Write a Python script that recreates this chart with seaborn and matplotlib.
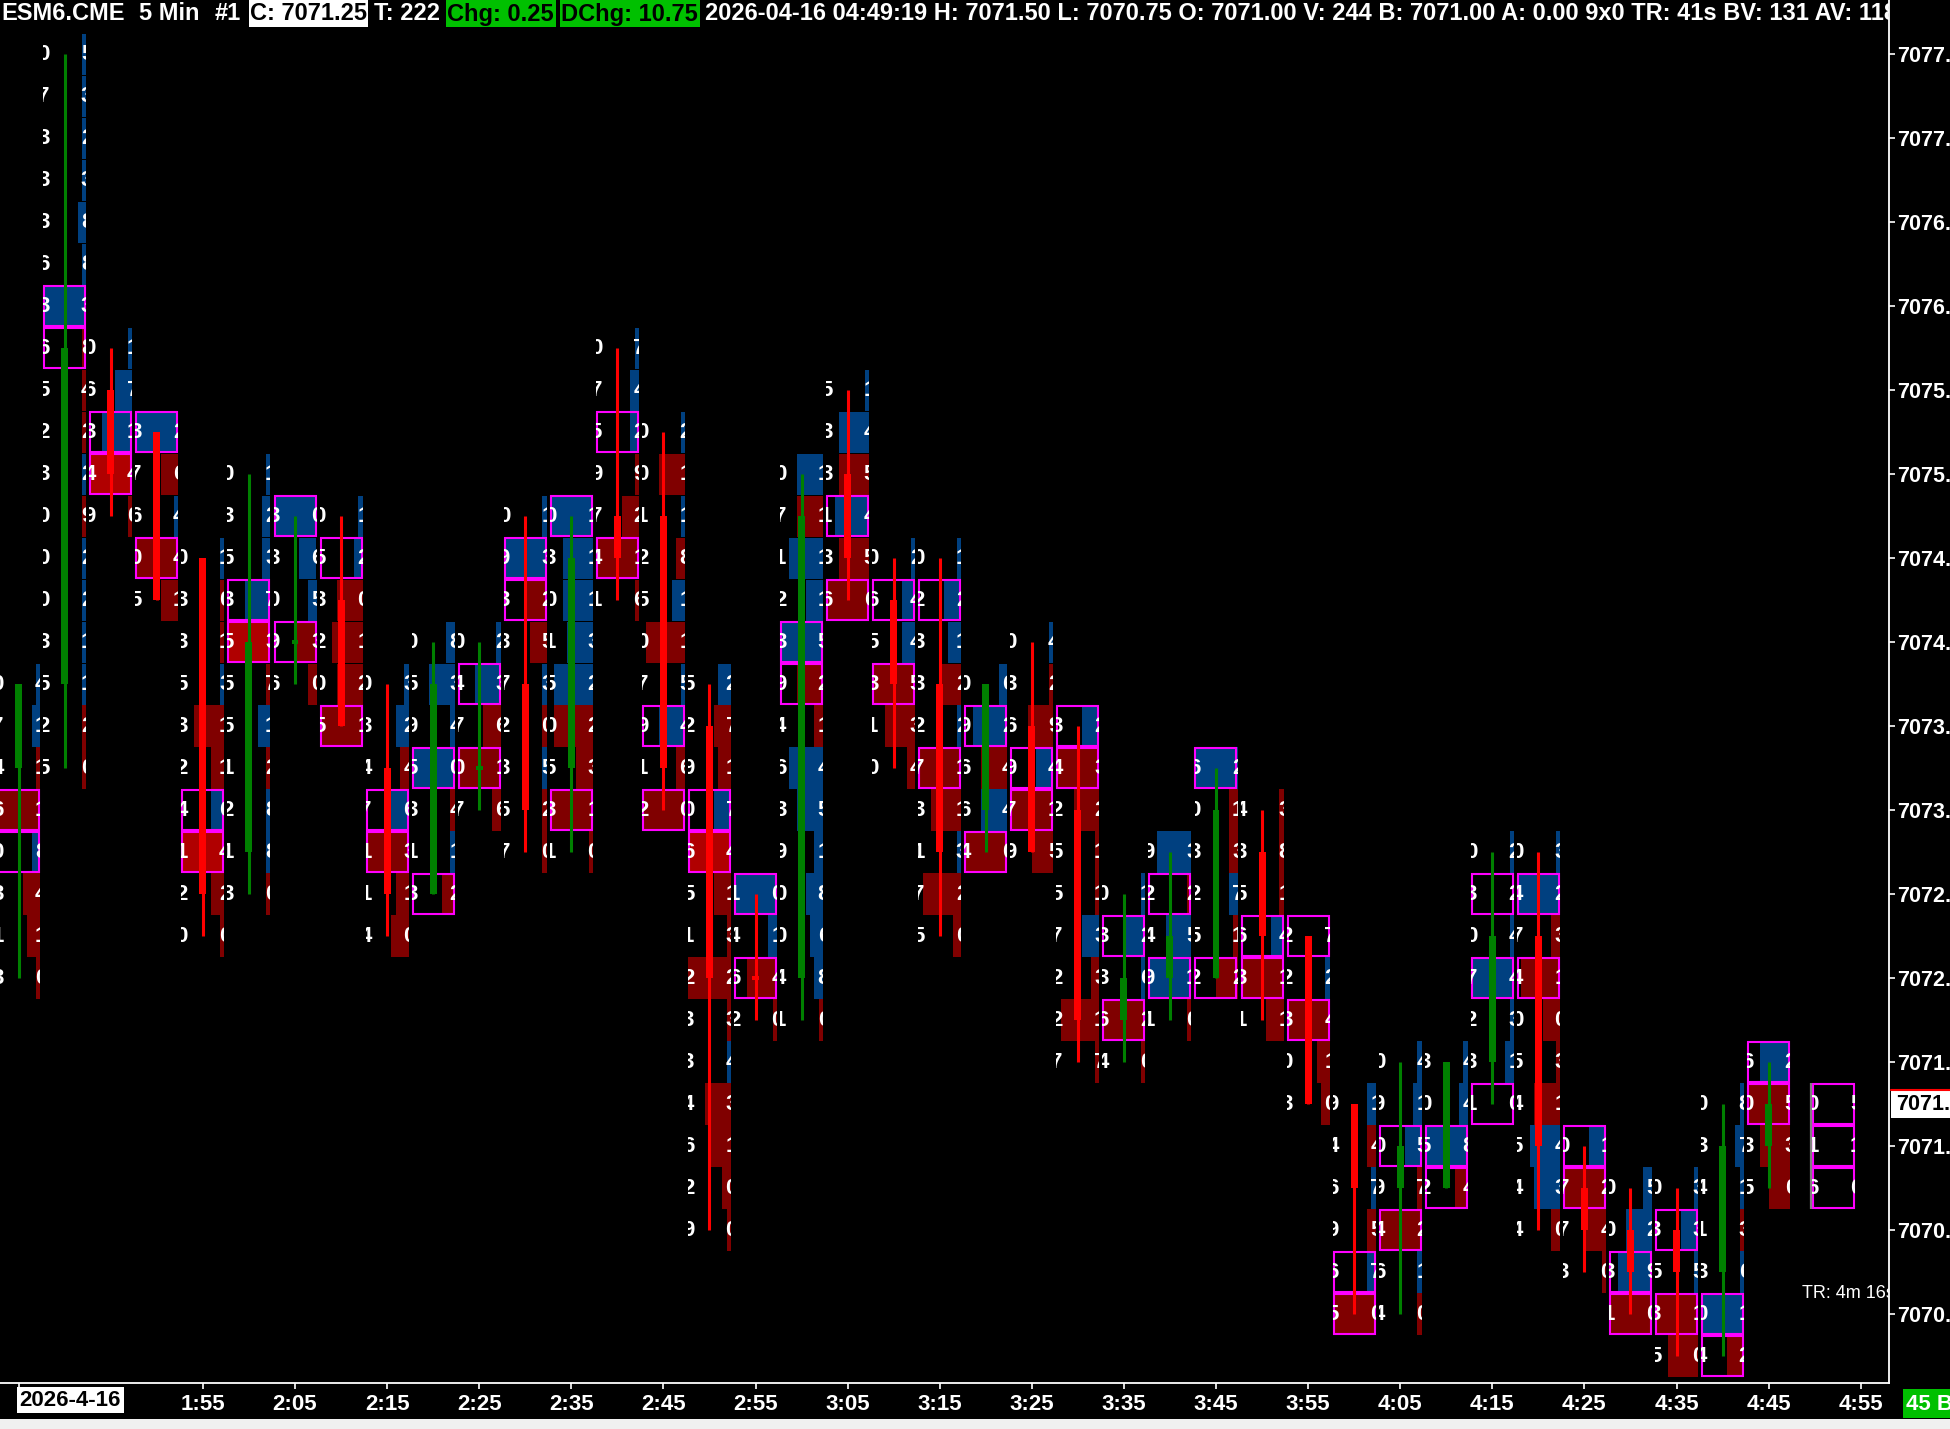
import numpy as np
import pandas as pd
import seaborn as sns
import matplotlib.pyplot as plt
from matplotlib.patches import Rectangle

# ESM6.CME 5 min footprint, oldest bar first
times = ['1:35', '1:40', '1:45', '1:50', '1:55', '2:00', '2:05', '2:10', '2:15', '2:20',
         '2:25', '2:30', '2:35', '2:40', '2:45', '2:50', '2:55', '3:00', '3:05', '3:10',
         '3:15', '3:20', '3:25', '3:30', '3:35', '3:40', '3:45', '3:50', '3:55', '4:00',
         '4:05', '4:10', '4:15', '4:20', '4:25', '4:30', '4:35', '4:40', '4:45']
opens = [7073.25, 7073.75, 7075.50, 7075.25, 7074.50, 7072.75, 7074.00, 7074.25, 7073.25, 7072.50,
         7073.25, 7073.75, 7073.25, 7074.75, 7074.75, 7073.50, 7072.00, 7072.00, 7075.00, 7074.25,
         7073.75, 7073.00, 7073.50, 7073.00, 7071.75, 7072.00, 7072.00, 7072.75, 7072.25, 7071.25,
         7070.75, 7070.75, 7071.50, 7072.25, 7070.75, 7070.50, 7070.50, 7070.25, 7071.00]
highs = [7073.75, 7077.50, 7075.75, 7075.25, 7074.50, 7075.00, 7074.75, 7074.75, 7073.75, 7074.00,
         7074.00, 7074.75, 7074.75, 7075.75, 7075.25, 7073.75, 7072.50, 7075.00, 7075.50, 7074.50,
         7074.50, 7073.75, 7074.00, 7073.50, 7072.50, 7072.75, 7073.25, 7073.00, 7072.25, 7071.25,
         7071.50, 7071.50, 7072.75, 7072.75, 7071.00, 7070.75, 7070.75, 7071.25, 7071.50]
lows = [7072.00, 7073.25, 7074.75, 7074.25, 7072.25, 7072.50, 7073.75, 7073.50, 7072.25, 7072.50,
        7073.00, 7072.75, 7072.75, 7074.25, 7073.00, 7070.50, 7071.75, 7071.75, 7074.25, 7073.25,
        7072.25, 7072.75, 7072.75, 7071.50, 7071.50, 7071.75, 7072.00, 7071.75, 7071.25, 7070.00,
        7070.00, 7070.75, 7071.25, 7070.50, 7070.25, 7070.00, 7069.75, 7069.75, 7070.75]
closes = [7073.75, 7075.75, 7075.00, 7074.25, 7072.50, 7074.00, 7074.00, 7073.50, 7072.50, 7073.75,
          7073.25, 7073.00, 7074.50, 7074.50, 7073.25, 7072.00, 7072.00, 7074.75, 7074.50, 7073.75,
          7072.75, 7073.75, 7072.75, 7071.75, 7072.00, 7072.25, 7073.00, 7072.25, 7071.25, 7070.75,
          7071.00, 7071.50, 7072.25, 7071.00, 7070.50, 7070.25, 7070.25, 7071.00, 7071.25]
flat_up = [6, 10]  # unchanged bars drawn green

# footprint per bar, from the high down to the low (one char / code per 0.25 tick)
bid_digits = ['07460313', '073336365230003525', '06349', '37605', '0335324120', '03535551213',
              '33096', '053205', '0347114', '0595313', '04707', '093372357', '030150531',
              '0759741', '0012507912', '52906512334629', '1462', '07123946390041', '533136',
              '065310', '0233273175', '09664', '036979', '342557227', '03364', '92491', '603252',
              '435631', '22303', '946965', '0909464', '3052', '0307231', '0474054544', '0773',
              '0031', '03535', '0341304', '6035']
ask_digits = ['41118410', '532388384229221120', '17140', '26441', '1013116420', '12373712880',
              '06530', '120121', '3246310', '8340412', '23616', '132530520', '111322310',
              '7429216', '2118115460', '27174132343100', '0140', '11115214518680', '145456',
              '244534', '1212211320', '62440', '429415', '232113317', '12620', '32510', '213712',
              '381411', '72410', '147570', '4157210', '4484', '2244310', '3231031430', '1240',
              '5290', '33510', '8713612', '2530']
# b = ask heavy (blue), r/R = bid heavy (red / bright red), number = bar length in tenths, * = imbalance box
cells = [
    'b1 b2 r1 r10* b2* r4 r3 r1',
    'b1 b1 b1 b1 b2 b1 b10* r1* r1 r1 b1 r1 b1 b1 b1 b1 r1 r1',
    'b1 b4 b7* R10* r1',
    'b10* r4 b1 r10* r4',
    'b1 r1 r1 b1 r7 r3 b3* R10* r3 r1',
    'b1 b2 b2 b6* R10* r1 b3 r1 b1 b1 r1',
    'b10* b4 b2 r5* r2',
    'b1 b2* r6 r7 r6 r10*',
    'b1 b3 r2 b4* r10* r3 r4',
    'b2 b6 b1 b10* r1 b1 r3*',
    'b1 b6* r4 r10* r2',
    'b1 b10* r5* r4 b1 r1 b1 r1 r1',
    'b10* b7 b7 b6 b9 r9 r4 r10* r1',
    'b1 b2 b2* r1 r4 r10* r1',
    'b1 r6 b1 r2 b3 r9 b1 b6* r2 r10*',
    'b3 r4 r3 b4* R10* r4 r1 r10 r1 b1 r6 r5 r2 r1',
    'b10* b2 r7* r1',
    'b6 r6 b8 b4 b10* r6* r2 b8 b6 b2 b4 b3 b2 r1',
    'b1 b7 r7 b8* r7 r10*',
    'b1 b3* b3 r10* r7 r2',
    'b1 b4* b3 r5 b1 r10* r7 b1 r9 r2',
    'b2 b8* r6 b6 r10*',
    'b1 r1 r6 b4* r10* r5',
    'b4* r10* r6 r1 r1 b4 r2 r9 r1',
    'b1 b5* b1 r10* r1',
    'b8 r1* b6 b10* r1',
    'b10* r2 r2 b2 r1 r5*',
    'r1 r1 r1 b3* r10* r4',
    '-* b1 r10* r3 r2',
    'b2 r2 b1 r2 b2* r10*',
    'b1 b2 b4* r1 r10* b1 r1',
    'b1 b2 b10* r3*',
    'b1 -* b1 b10* b1 b2 -*',
    'b1 b10* r2 r9* r4 r1 r6 b7 b6 r2',
    'b4* r10* r5 r1',
    'b2 b6 b8* r10*',
    'b1 b4* b1 r10* r7',
    'b1 b2 b1 r1 b1 b10* r4*',
    'b7* r10* r7 r5',
]

# current bar profile on the right
profile_prices = [7071.25, 7071.00, 7070.75]
profile_bid = ['0', '1', '6']
profile_ask = ['5', '1', '0']

axis_times = ['1:55', '2:05', '2:15', '2:25', '2:35', '2:45', '2:55', '3:05', '3:15', '3:25',
              '3:35', '3:45', '3:55', '4:05', '4:15', '4:25', '4:35', '4:45', '4:55']
price_ticks = np.arange(7070.0, 7077.51, 0.5)
last_price = 7071.25
TICK = 0.25

# ---- layout (pixels of the 1950x1429 picture) ----
W, H = 1950, 1429
PLOT_R, PLOT_B = 1889, 1383
BAR_X0, BAR_DX = 18.7, 46.05
Y_REF, PX_POINT = 1314, 168   # y pixel of 7070.00, pixels per 1.00 of price
HW = 21.5 / BAR_DX

sns.set_theme(style='dark', rc={'axes.facecolor': 'black', 'figure.facecolor': 'black',
                                'axes.grid': False})
plt.rcParams['font.family'] = ['Liberation Sans', 'DejaVu Sans']

fig = plt.figure(figsize=(W / 100, H / 100), dpi=100, facecolor='black')
ax = fig.add_axes([0, (H - PLOT_B) / H, PLOT_R / W, PLOT_B / H])
ax.set_facecolor('black')
xlo, xhi = -BAR_X0 / BAR_DX, (PLOT_R - BAR_X0) / BAR_DX
ylo = 7070 - (PLOT_B - Y_REF) / PX_POINT
yhi = 7070 + Y_REF / PX_POINT

rows = []
for i, code_str in enumerate(cells):
    for k, code in enumerate(code_str.split()):
        num = code[1:].rstrip('*')
        rows.append({'bar': i, 'price': highs[i] - k * TICK,
                     'bid': bid_digits[i][k], 'ask': ask_digits[i][k],
                     'kind': code[0], 'size': int(num) / 10 if num else 0.0,
                     'box': code.endswith('*')})
fp = pd.DataFrame(rows)

fill_col = {'b': '#004080', 'r': '#800000', 'R': '#b00000'}
bx, by = 1.0 / BAR_DX, 1.0 / PX_POINT
clips = {}


def clip_for(x):
    if x not in clips:
        clips[x] = Rectangle((x - HW, ylo - 1), 2 * HW, yhi - ylo + 2, transform=ax.transData)
    return clips[x]


def cell_text(x, p, bid, ask):
    kw = dict(va='center', color='white', fontsize=16, fontweight='bold', zorder=3, clip_on=True)
    t1 = ax.text(x - 0.33, p, bid, ha='right', **kw)
    t2 = ax.text(x + 0.35, p, ask, ha='left', **kw)
    t1.set_clip_path(clip_for(x))
    t2.set_clip_path(clip_for(x))


def box(x, p):
    ax.add_patch(Rectangle((x - HW + bx, p - TICK / 2 + by), 2 * (HW - bx), TICK - 2 * by,
                           fill=False, ec='#ff00ff', lw=1.5, zorder=2))


for r in fp.itertuples():
    if r.kind in fill_col:
        w = 2 * HW * r.size
        ax.add_patch(Rectangle((r.bar + HW - w, r.price - TICK / 2 + by / 2), w, TICK - by,
                               color=fill_col[r.kind], lw=0, zorder=1))
    if r.box:
        box(r.bar, r.price)
    cell_text(r.bar, r.price, r.bid, r.ask)

# candles
for i in range(len(times)):
    o, h, l, c = opens[i], highs[i], lows[i], closes[i]
    up = c > o or (c == o and i in flat_up)
    col = '#008000' if up else '#ff0000'
    ax.vlines(i, l, h, color=col, lw=2.2, zorder=4)
    body = max(abs(c - o), 0.02)
    ax.bar(i, body, bottom=min(o, c) - (0.01 if c == o else 0), width=0.152,
           color=col, lw=0, zorder=5)

# current bar profile
px = len(times) + 0.42
for p, b, a in zip(profile_prices, profile_bid, profile_ask):
    box(px, p)
    cell_text(px, p, b, a)
ax.vlines(px - 0.5, min(profile_prices) - TICK / 2, max(profile_prices) + TICK / 2,
          color='#808080', lw=1.6, zorder=2)

ax.set_xlim(xlo, xhi)
ax.set_ylim(ylo, yhi)

# axes styling
for s in ['left', 'top']:
    ax.spines[s].set_visible(False)
for s in ['right', 'bottom']:
    ax.spines[s].set_color('white')
    ax.spines[s].set_linewidth(1.3)
ax.set_xticks([0] + list(range(4, 41, 2)))
ax.set_xticklabels([''] + axis_times, fontsize=16, fontweight='bold', color='white')
ax.tick_params(axis='x', colors='white', length=4, width=1.2, pad=4, bottom=True)
ax.yaxis.tick_right()
ax.set_yticks(price_ticks)
ax.set_yticklabels([f'{p:.2f}' for p in price_ticks], fontsize=15.5, fontweight='bold',
                   color='white')
ax.tick_params(axis='y', colors='white', length=4, width=1.2, pad=2, right=True, left=False)
ax.set_xlabel('')
ax.set_ylabel('')


def fx(x):
    return x / W


def fy(y):
    return 1 - y / H


# date label under the first bar
ax.text(0.02, -(1400 - PLOT_B) / PLOT_B, '2026-4-16',
        transform=ax.get_xaxis_transform(), ha='left', va='center', fontsize=16,
        fontweight='bold', color='black', clip_on=False,
        bbox=dict(boxstyle='square,pad=0.12', fc='white', ec='none'))

# last price marker on the price scale
ly = Y_REF - (last_price - 7070) * PX_POINT
fig.add_artist(Rectangle((fx(1891), fy(ly + 14)), fx(W - 1891), 28 / H,
                         transform=fig.transFigure, fc='white', ec='none', zorder=6))
fig.add_artist(plt.Line2D([fx(1891), 1], [fy(ly - 14), fy(ly - 14)], color='red', lw=1.5,
                          transform=fig.transFigure, zorder=7))
fig.text(fx(1896), fy(ly), f'{last_price:.2f}', ha='left', va='center', fontsize=15.5,
         fontweight='bold', color='black', zorder=8)

# bottom right counter and grey strip
fig.add_artist(Rectangle((fx(1903), fy(1418)), fx(W - 1903), 29 / H,
                         transform=fig.transFigure, fc='#00c000', ec='none'))
fig.text(fx(1906), fy(1404), '45 B', ha='left', va='center', fontsize=16,
         fontweight='bold', color='white')
fig.add_artist(Rectangle((0, 0), 1, 10 / H, transform=fig.transFigure, fc='#f0f0f0',
                         ec='none'))


# header line
def hx(x):
    return x / PLOT_R


def hy(y):
    return 1 - y / PLOT_B


head = dict(transform=ax.transAxes, va='center', ha='left', fontsize=17, fontweight='bold',
            clip_on=True, zorder=10)
for x0, x1, fc in [(249, 368, 'white'), (446, 556, '#00c000'), (560, 700, '#00c000')]:
    ax.add_patch(Rectangle((hx(x0), hy(27)), hx(x1 - x0), 27 / PLOT_B,
                           transform=ax.transAxes, fc=fc, ec='none', zorder=9))
ax.text(hx(1), hy(14), 'ESM6.CME', color='white', **head)
ax.text(hx(139), hy(14), '5 Min', color='white', **head)
ax.text(hx(215), hy(14), '#1', color='white', **head)
ax.text(hx(250), hy(14), 'C: 7071.25', color='black', **head)
ax.text(hx(374), hy(14), 'T: 222', color='white', **head)
ax.text(hx(447), hy(14), 'Chg: 0.25', color='black', **head)
ax.text(hx(561), hy(14), 'DChg: 10.75', color='black', **head)
ax.text(hx(705), hy(14), '2026-04-16 04:49:19 H: 7071.50 L: 7070.75 O: 7071.00 V: 244 '
        'B: 7071.00 A: 0.00 9x0 TR: 41s BV: 131 AV: 118', color='white', **head)

ax.text(1802 / PLOT_R, hy(1293), 'TR: 4m 16s', transform=ax.transAxes, ha='left',
        va='center', fontsize=13, color='white', clip_on=True, zorder=10)

fig.savefig('out.png', dpi=100, facecolor='black')
